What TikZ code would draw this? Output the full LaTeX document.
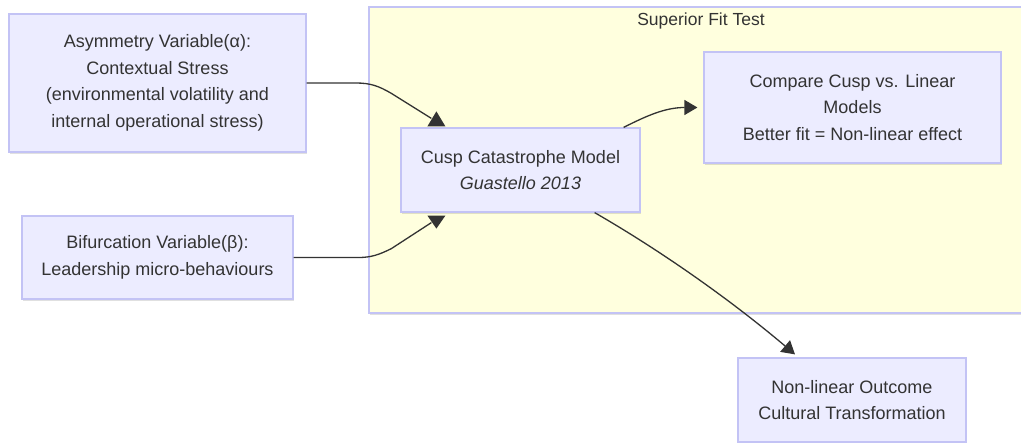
\documentclass[tikz,border=0pt]{standalone}
\usepackage{fontspec}
\setmainfont{Liberation Sans}
\usetikzlibrary{arrows.meta,calc,shadows}
\definecolor{boxfill}{HTML}{ECECFF}
\definecolor{boxline}{HTML}{C3C3F5}
\definecolor{clusterfill}{HTML}{FFFFDE}
\definecolor{ink}{HTML}{333333}
\tikzset{
  softshadow/.style={drop shadow={shadow xshift=1pt, shadow yshift=-2pt, opacity=0.12, fill=black}},
  procbox/.style={draw=boxline, fill=boxfill, line width=1.2pt, align=center, text=ink,
    font=\fontsize{18}{26.7}\selectfont, inner sep=0pt, softshadow},
  clusterbox/.style={draw=boxline, fill=clusterfill, line width=1.2pt, inner sep=0pt, softshadow},
  clustertitle/.style={text=ink, font=\fontsize{17.5}{20}\selectfont, inner sep=0pt},
  link/.style={draw=ink, line width=1.3pt},
  arrowed/.style={-{Triangle[length=13pt,width=15pt]}},
  marker/.style={fill=ink},
}
\begin{document}
\begin{tikzpicture}[x=1pt,y=-1pt]
\useasboundingbox (0,0) rectangle (1021,443);

% group frame
\node[clusterbox, minimum width=661pt, minimum height=306pt] (fit) at (699.5,160) {};
\node[clustertitle] (fittitle) at (701,21) {Superior Fit Test};

% process boxes
\node[procbox, minimum width=297pt, minimum height=138pt] (asym) at (157.5,83)
  {Asymmetry Variable(α):\\Contextual Stress\\(environmental volatility and\\internal operational stress)};
\node[procbox, minimum width=271pt, minimum height=83pt] (bif) at (157.5,257.5)
  {Bifurcation Variable(β):\\Leadership micro-behaviours};
\node[procbox, minimum width=239pt, minimum height=84pt] (cusp) at (520.5,170)
  {Cusp Catastrophe Model\\\itshape Guastello 2013};
\node[procbox, minimum width=297pt, minimum height=111pt] (comp) at (852.5,107.5)
  {Compare Cusp vs. Linear\\Models\\Better fit = Non-linear effect};
\node[procbox, minimum width=228pt, minimum height=84pt] (out) at (852,400)
  {Non-linear Outcome\\Cultural Transformation};

% asymmetry -> cusp
\draw[link] (asym.east) -- ($(asym.east)+(49,0)$)
  .. controls ($(asym.east)+(64,0)$) and ($(asym.east)+(72,3)$) .. ($(cusp.north west)+(-9,-34)$)
  -- ($(cusp.north west)+(31,-9)$);
\fill[marker] ($(cusp.north west)+(36,-16)$) -- ($(cusp.north west)+(27,-1)$) -- ($(cusp.north west)+(45,-1)$) -- cycle;

% bifurcation -> cusp
\draw[link] (bif.east) -- ($(bif.east)+(65,0)$)
  .. controls ($(bif.east)+(77,0)$) and ($(bif.east)+(85,-2.5)$) .. ($(cusp.south west)+(-9,36)$)
  -- ($(cusp.south west)+(31,10)$);
\fill[marker] ($(cusp.south west)+(36,16)$) -- ($(cusp.south west)+(27,3)$) -- ($(cusp.south west)+(45,3)$) -- cycle;

% cusp -> compare
\draw[link, arrowed] ($(cusp.north east)+(-17,0)$)
  .. controls ($(cusp.north east)+(5,-11)$) and ($(comp.west)+(-39,0)$) .. ($(comp.west)+(-6,0)$);

% cusp -> outcome
\draw[link, arrowed] ($(cusp.south east)+(-46,0)$)
  .. controls ($(cusp.south east)+(20,38)$) and ($(out.north)+(-122,-58)$) .. ($(out.north)+(-57,-3)$);
\end{tikzpicture}
\end{document}
